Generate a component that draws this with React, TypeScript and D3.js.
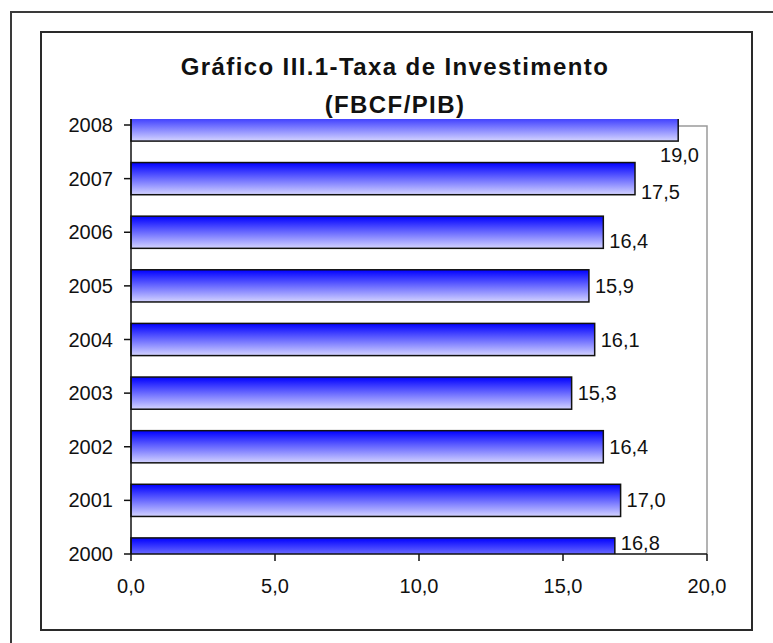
import React, { useEffect } from 'react';
import * as d3 from 'd3';

// dados do gráfico (FBCF/PIB, %)
const anos = ['2008', '2007', '2006', '2005', '2004', '2003', '2002', '2001', '2000'];
const taxa = [19.0, 17.5, 16.4, 15.9, 16.1, 15.3, 16.4, 17.0, 16.8];
const ticksX = [0, 5, 10, 15, 20];
const titulo = ['Gráfico III.1-Taxa de Investimento', '(FBCF/PIB)'];

// ajustes finos dos rótulos de valor, como o Excel os deixou (px)
const ajusteRotulo: Record<string, number> = { '2007': 13, '2006': 9, '2000': -11 };

const W = 773;
const H = 643;
const plot = { left: 131, right: 707, top: 125, bottom: 554 };
const fonte = 'Arial, "Liberation Sans", sans-serif';
const fmt = (v: number) => v.toFixed(1).replace('.', ',');

export default function App() {
  useEffect(() => {
    document.body.style.margin = '0';
  }, []);

  const x = d3.scaleLinear().domain([0, 20]).range([plot.left, plot.right]);
  // categorias nas bordas (2000 no eixo, 2008 no topo)
  const y = d3.scalePoint<string>().domain(anos).range([plot.top, plot.bottom]);
  const alturaBarra = y.step() * 0.6;
  const fs = 20;

  return (
    <svg width={W} height={H} style={{ display: 'block', background: '#fff' }}>
      <defs>
        <linearGradient id="grad" x1="0" y1="0" x2="0" y2="1">
          <stop offset="0%" stopColor="#0000ff" />
          <stop offset="100%" stopColor="#d4d4ff" />
        </linearGradient>
        <clipPath id="clip">
          <rect x={plot.left - 2} y={plot.top - 6} width={plot.right - plot.left + 10} height={plot.bottom - plot.top + 6} />
        </clipPath>
      </defs>

      {/* molduras */}
      <rect x={11} y={12} width={W} height={H} fill="none" stroke="#3a3a3a" strokeWidth={2} />
      <rect x={41} y={32} width={711} height={598} fill="#fff" stroke="#2a2a2a" strokeWidth={2} />

      {/* título */}
      {titulo.map((t, i) => (
        <text
          key={t}
          x={395}
          y={75 + i * 38}
          textAnchor="middle"
          fontFamily={fonte}
          fontWeight="bold"
          fontSize={24}
          letterSpacing={1.4}
          fill="#111"
        >
          {t}
        </text>
      ))}

      {/* borda da área de plotagem */}
      <path
        d={`M${plot.left},${plot.top + 1}H${plot.right}V${plot.bottom}`}
        fill="none"
        stroke="#9a9a9a"
        strokeWidth={1.5}
      />

      {/* barras */}
      <g clipPath="url(#clip)">
        {anos.map((a, i) => (
          <rect
            key={a}
            x={x(0)}
            y={(y(a) as number) - alturaBarra / 2}
            width={x(taxa[i]) - x(0)}
            height={alturaBarra}
            fill="url(#grad)"
            stroke="#111"
            strokeWidth={1.5}
          />
        ))}
      </g>

      {/* eixos */}
      <line x1={plot.left} x2={plot.right} y1={plot.bottom} y2={plot.bottom} stroke="#111" strokeWidth={1.5} />
      <line x1={plot.left} x2={plot.left} y1={plot.top - 6} y2={plot.bottom} stroke="#111" strokeWidth={1.5} />

      {ticksX.map((t) => (
        <g key={t}>
          <line x1={x(t)} x2={x(t)} y1={plot.bottom} y2={plot.bottom + 7} stroke="#111" strokeWidth={1.5} />
          <text x={x(t)} y={plot.bottom + 39} textAnchor="middle" fontFamily={fonte} fontSize={fs} fill="#111">
            {fmt(t)}
          </text>
        </g>
      ))}

      {anos.map((a) => (
        <g key={a}>
          <line x1={plot.left - 7} x2={plot.left} y1={y(a)} y2={y(a)} stroke="#111" strokeWidth={1.5} />
          <text x={plot.left - 18} y={(y(a) as number) + 7} textAnchor="end" fontFamily={fonte} fontSize={fs} fill="#111">
            {a}
          </text>
        </g>
      ))}

      {/* rótulos de valor */}
      {anos.map((a, i) => {
        const fim = x(taxa[i]);
        const cy = y(a) as number;
        const larg = fs * 2.1;
        const cabe = fim + 6 + larg <= plot.right;
        return (
          <text
            key={a}
            x={cabe ? fim + 6 : plot.right - 8}
            y={(cabe ? cy + (ajusteRotulo[a] || 0) : cy + 30) + 7}
            textAnchor={cabe ? 'start' : 'end'}
            fontFamily={fonte}
            fontSize={fs}
            fill="#111"
          >
            {fmt(taxa[i])}
          </text>
        );
      })}
    </svg>
  );
}
